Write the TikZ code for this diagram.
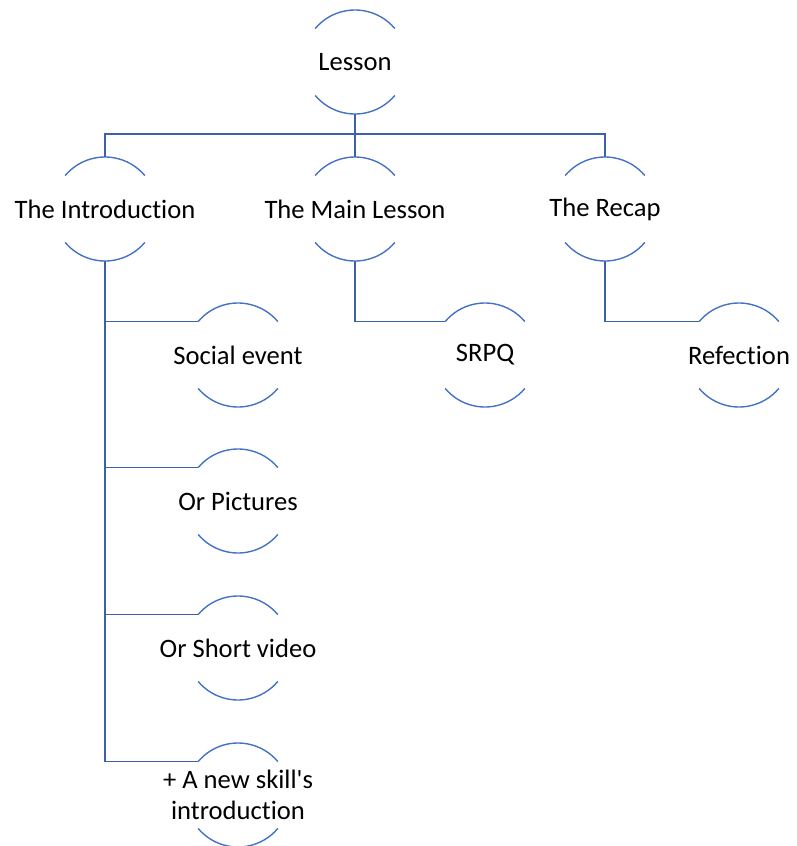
\documentclass[tikz,border=0pt]{standalone}
\usepackage{fontspec}
\setmainfont[Ligatures=NoCommon]{Carlito}
\usepackage{tikz}
\definecolor{arcblue}{RGB}{68,114,196}
\definecolor{linkblue}{RGB}{60,96,170}

\begin{document}
\begin{tikzpicture}[x=1pt, y=1pt,
  hub/.style = {circle, minimum size=104pt, inner sep=0pt, outer sep=0pt},
  every label/.style = {align=center, text=black, font=\fontsize{26.6}{31}\selectfont},
  rim/.style = {draw=arcblue, line width=1.4pt},
  link/.style = {draw=linkblue, line width=1.3pt}]
\useasboundingbox (0,0) rectangle (796,-846);
\node [hub, label=center:{Lesson}] (lesson) at (355,-62) {};
\node [hub, label=center:{The Introduction}] (intro) at (105,-209) {};
\node [hub, label=center:{The Main Lesson}] (main) at (355,-209) {};
\node [hub, label=center:{The Recap}] (recap) at (605,-209) {};
\node [hub, label=center:{Social event}] (social) at (238,-355) {};
\node [hub, label=center:{Or Pictures}] (pictures) at (238,-501) {};
\node [hub, label=center:{Or Short video}] (video) at (238,-648) {};
\node [hub, label=center:{+ A new skill\textquotesingle s\\introduction}] (skill) at (238,-795) {};
\node [hub, label=center:{SRPQ}] (srpq) at (485,-355) {};
\node [hub, label=center:{Refection}] (refl) at (739,-355) {};
\foreach \n in {lesson,intro,main,recap,social,pictures,video,skill,srpq,refl}{
  \draw [rim] (\n.140) arc [start angle=140, end angle=40, radius=52];
  \draw [rim] (\n.220) arc [start angle=220, end angle=320, radius=52];
}
\draw [link] (lesson.south) -- ++(0,-20) coordinate (bus);
\draw [link] (intro.north) |- (bus) -| (recap.north);
\draw [link] (bus) -- (main.north);
\foreach \c in {social,pictures,video,skill}
  \draw [link] (intro.south) |- (\c.140);
\draw [link] (main.south) |- (srpq.140);
\draw [link] (recap.south) |- (refl.140);
\end{tikzpicture}
\end{document}
